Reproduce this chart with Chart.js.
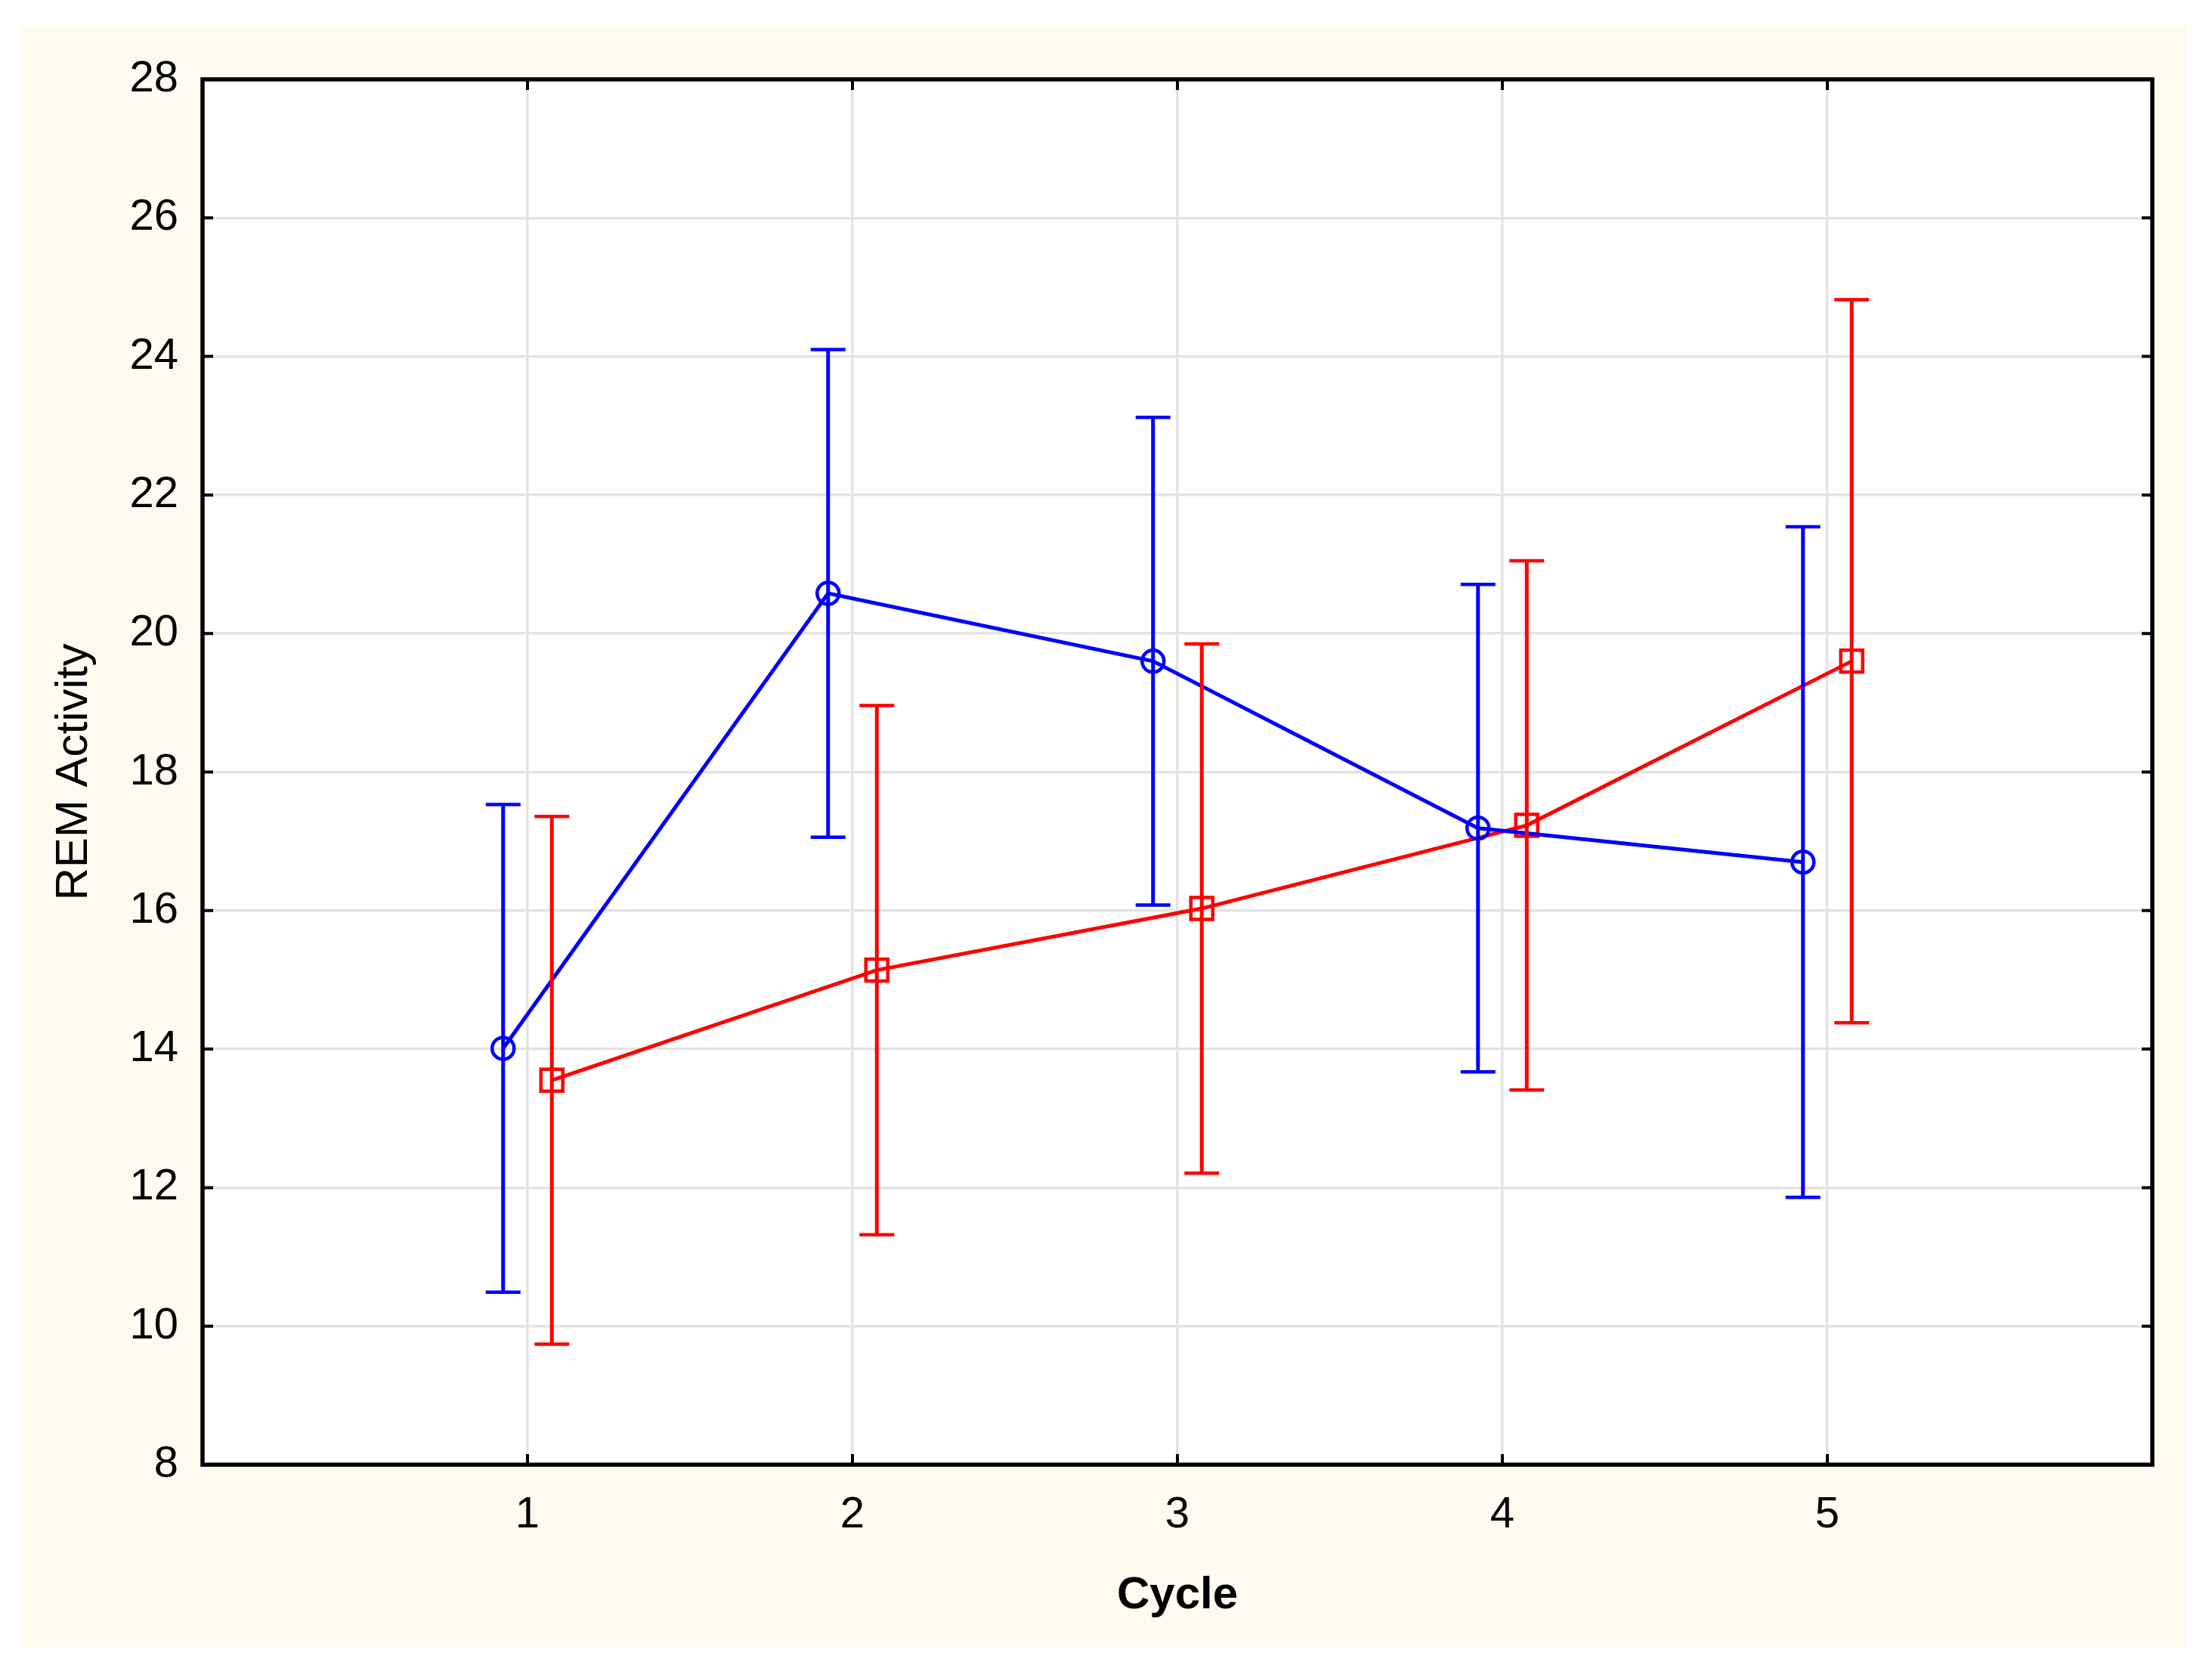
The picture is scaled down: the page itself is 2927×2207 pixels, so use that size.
<!DOCTYPE html>
<html>
<head>
<meta charset="utf-8">
<title>REM Activity by Cycle</title>
<script src="https://cdn.jsdelivr.net/npm/chart.js@4/dist/chart.umd.min.js"></script>
<style>
  html, body { margin: 0; padding: 0; background: #ffffff; }
  canvas { display: block; }
</style>
</head>
<body>
<canvas id="chart" width="2927" height="2207"></canvas>
<script>
const cycles = [1, 2, 3, 4, 5];
const yTickValues = [8, 10, 12, 14, 16, 18, 20, 22, 24, 26, 28];

// blue series (circles)
const blueMean = [14.01, 20.58, 19.6, 17.19, 16.7];
const blueLow = [10.49, 17.06, 16.08, 13.67, 11.86];
const blueHigh = [17.53, 24.1, 23.12, 20.71, 21.54];

// red series (squares)
const redMean = [13.55, 15.14, 16.03, 17.23, 19.6];
const redLow = [9.74, 11.32, 12.21, 13.41, 14.38];
const redHigh = [17.36, 18.96, 19.85, 21.05, 24.82];

const FONT = "'Liberation Sans', Arial, sans-serif";
const CREAM = "#fffaf0";

const buildPoints = (means, low, high, shift) => {
  return cycles.map((c, i) => ({ x: c + shift, y: means[i], low: low[i], high: high[i] }));
};

// background + white plot area
const backdrop = {
  id: "backdrop",
  beforeDraw: (chart) => {
    const { ctx, chartArea } = chart;
    ctx.save();
    ctx.fillStyle = CREAM;
    ctx.fillRect(26, 34, 2893 - 26, 2180 - 34);
    ctx.fillStyle = "#ffffff";
    ctx.fillRect(chartArea.left, chartArea.top, chartArea.right - chartArea.left, chartArea.bottom - chartArea.top);
    ctx.restore();
  },
};

const errorBars = {
  id: "errorBars",
  afterDatasetsDraw: (chart) => {
    const { ctx, scales } = chart;
    chart.data.datasets.forEach((set) => {
      ctx.save();
      ctx.strokeStyle = set.borderColor;
      ctx.lineCap = "butt";
      set.data.forEach((p) => {
        const px = scales.x.getPixelForValue(p.x);
        const top = scales.y.getPixelForValue(p.high);
        const bottom = scales.y.getPixelForValue(p.low);
        ctx.lineWidth = 5;
        ctx.beginPath();
        ctx.moveTo(px, top);
        ctx.lineTo(px, bottom);
        ctx.stroke();
        ctx.lineWidth = 4.5;
        ctx.beginPath();
        ctx.moveTo(px - 23, top);
        ctx.lineTo(px + 23, top);
        ctx.moveTo(px - 23, bottom);
        ctx.lineTo(px + 23, bottom);
        ctx.stroke();
      });
      ctx.restore();
    });
  },
};

// black frame with short inward ticks on all four sides
const frame = {
  id: "frame",
  afterDraw: (chart) => {
    const { ctx, chartArea, scales } = chart;
    const { left, right, top, bottom } = chartArea;
    ctx.save();
    ctx.strokeStyle = "#000000";
    ctx.lineWidth = 5.5;
    ctx.strokeRect(left, top, right - left, bottom - top);
    ctx.lineWidth = 4;
    ctx.beginPath();
    yTickValues.forEach((v) => {
      const py = scales.y.getPixelForValue(v);
      ctx.moveTo(left, py);
      ctx.lineTo(left + 14, py);
      ctx.moveTo(right, py);
      ctx.lineTo(right - 14, py);
    });
    cycles.forEach((c) => {
      const px = scales.x.getPixelForValue(c);
      ctx.moveTo(px, bottom);
      ctx.lineTo(px, bottom - 14);
      ctx.moveTo(px, top);
      ctx.lineTo(px, top + 14);
    });
    ctx.stroke();
    ctx.restore();
  },
};

const ctx = document.getElementById("chart").getContext("2d");

new Chart(ctx, {
  type: "scatter",
  data: {
    datasets: [
      {
        label: "Group A",
        data: buildPoints(blueMean, blueLow, blueHigh, -0.075),
        showLine: true,
        borderColor: "#0000ff",
        borderWidth: 5,
        pointStyle: "circle",
        pointRadius: 14.5,
        pointBorderWidth: 4.5,
        pointBorderColor: "#0000ff",
        pointBackgroundColor: "rgba(0,0,0,0)",
      },
      {
        label: "Group B",
        data: buildPoints(redMean, redLow, redHigh, 0.075),
        showLine: true,
        borderColor: "#ff0000",
        borderWidth: 5,
        pointStyle: "rect",
        pointRadius: 20.5,
        pointBorderWidth: 4.5,
        pointBorderColor: "#ff0000",
        pointBackgroundColor: "rgba(0,0,0,0)",
      },
    ],
  },
  options: {
    responsive: false,
    animation: false,
    devicePixelRatio: 1,
    layout: {
      padding: { left: 0, top: 105, right: 79, bottom: 0 },
    },
    scales: {
      x: {
        type: "linear",
        min: 0,
        max: 6,
        afterBuildTicks: (scale) => {
          scale.ticks = cycles.map((v) => ({ value: v }));
        },
        afterFit: (scale) => {
          scale.height = 269;
        },
        border: { display: false },
        grid: {
          color: "#e4e4e4",
          lineWidth: 3.5,
          drawTicks: false,
        },
        ticks: {
          color: "#000000",
          padding: 32,
          font: { family: FONT, size: 58 },
        },
        title: {
          display: true,
          text: "Cycle",
          color: "#000000",
          padding: { top: 0, bottom: 60 },
          font: { family: FONT, size: 60, weight: "bold" },
        },
      },
      y: {
        type: "linear",
        min: 8,
        max: 28,
        afterBuildTicks: (scale) => {
          scale.ticks = yTickValues.map((v) => ({ value: v }));
        },
        afterFit: (scale) => {
          scale.width = 268;
        },
        border: { display: false },
        grid: {
          color: "#e4e4e4",
          lineWidth: 3.5,
          drawTicks: false,
        },
        ticks: {
          color: "#000000",
          padding: 32,
          font: { family: FONT, size: 58 },
        },
        title: {
          display: true,
          text: "REM Activity",
          color: "#000000",
          padding: { top: 62, bottom: 0 },
          font: { family: FONT, size: 60 },
        },
      },
    },
    plugins: {
      legend: { display: false },
      tooltip: { enabled: false },
    },
  },
  plugins: [backdrop, errorBars, frame],
});
</script>
</body>
</html>
